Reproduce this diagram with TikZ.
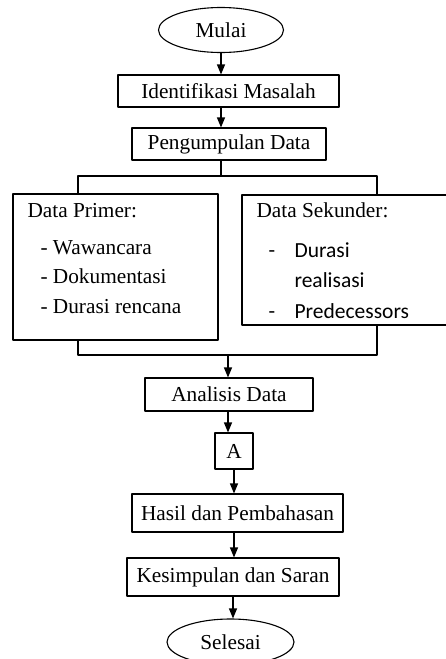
\documentclass[tikz,border=0pt]{standalone}
\usepackage{fontspec}
\setmainfont{Liberation Serif}
\newfontfamily\itemfont{Carlito}
\usetikzlibrary{shapes.geometric,arrows.meta}
\begin{document}
\begin{tikzpicture}[x=1pt, y=-1pt, line cap=round, line join=round, line width=1.1pt,
		>={Triangle[length=10pt,width=8pt]},
		font=\fontsize{21.3}{25}\selectfont,
		term/.style={draw, ellipse, inner sep=0pt},
		proc/.style={draw, rectangle, inner sep=0pt, minimum height=32},
		txt/.style={anchor=base west, inner sep=0pt},
		sans/.style={txt, font=\itemfont\fontsize{21.5}{25}\selectfont}]
			\useasboundingbox (0,0) rectangle (445,659);
			\node[term, minimum width=125, minimum height=45] (mulai) at (221,30) {Mulai};
			\node[proc, minimum width=221] (ident) at (228.5,91) {Identifikasi Masalah};
			\node[proc, minimum width=194] (peng) at (229,144) {Pengumpulan Data};
			\node[draw, rectangle, minimum width=205, minimum height=146] (primer) at (115.5,267) {};
			\node[draw, rectangle, minimum width=213, minimum height=130] (sekunder) at (348.5,260) {};
			\node[proc, minimum width=168, minimum height=33] (analisis) at (229,394.5) {Analisis Data};
			\node[proc, minimum width=38, minimum height=36] (a) at (234,451) {A};
			\node[proc, minimum width=211, minimum height=38] (hasil) at (237.5,513) {Hasil dan Pembahasan};
			\node[proc, minimum width=212, minimum height=38] (kesimpulan) at (233,577) {Kesimpulan dan Saran};
			\node[term, minimum width=127, minimum height=46] (selesai) at (230.5,642) {Selesai};
			% isi kotak data
			\node[txt] (primerjudul) at (27,217) {Data Primer:};
			\node[txt] (wawancara) at (40,254) {- Wawancara};
			\node[txt] (dokumentasi) at (40,283) {- Dokumentasi};
			\node[txt] (rencana) at (40,313) {- Durasi rencana};
			\node[txt] (sekunderjudul) at (256,217) {Data Sekunder:};
			\node[sans] (strip1) at (268,257) {-};
			\node[sans] (durasi) at (294,257) {Durasi};
			\node[sans] (realisasi) at (294,287) {realisasi};
			\node[sans] (strip2) at (268,318) {-};
			\node[sans] (pred) at (294,318) {Predecessors};
			% percabangan
			\coordinate (tl) at (78,176);
			\coordinate (tr) at (377,176);
			\coordinate (bl) at (78,355);
			\coordinate (br) at (377,355);
			\coordinate (gabung) at (228,355);
			\draw[->] (mulai.south) -- (mulai.south |- ident.north);
			\draw[->] (mulai |- ident.south) -- (mulai |- peng.north);
			\draw (mulai |- peng.south) -- (mulai |- tl);
			\draw (primer.north -| tl) -- (tl) -- (tr) -- (sekunder.north -| tr);
			\draw (primer.south -| bl) -- (bl) -- (br) -- (sekunder.south -| br);
			\draw[->] (gabung) -- (gabung |- analisis.north);
			\draw[->] (gabung |- analisis.south) -- (gabung |- a.north);
			\draw[->] (a.south) -- (a.south |- hasil.north);
			\draw[->] (a.south |- hasil.south) -- (a.south |- kesimpulan.north);
			\draw[->] (kesimpulan.south) -- (kesimpulan.south |- selesai.north);
		\end{tikzpicture}
\end{document}
